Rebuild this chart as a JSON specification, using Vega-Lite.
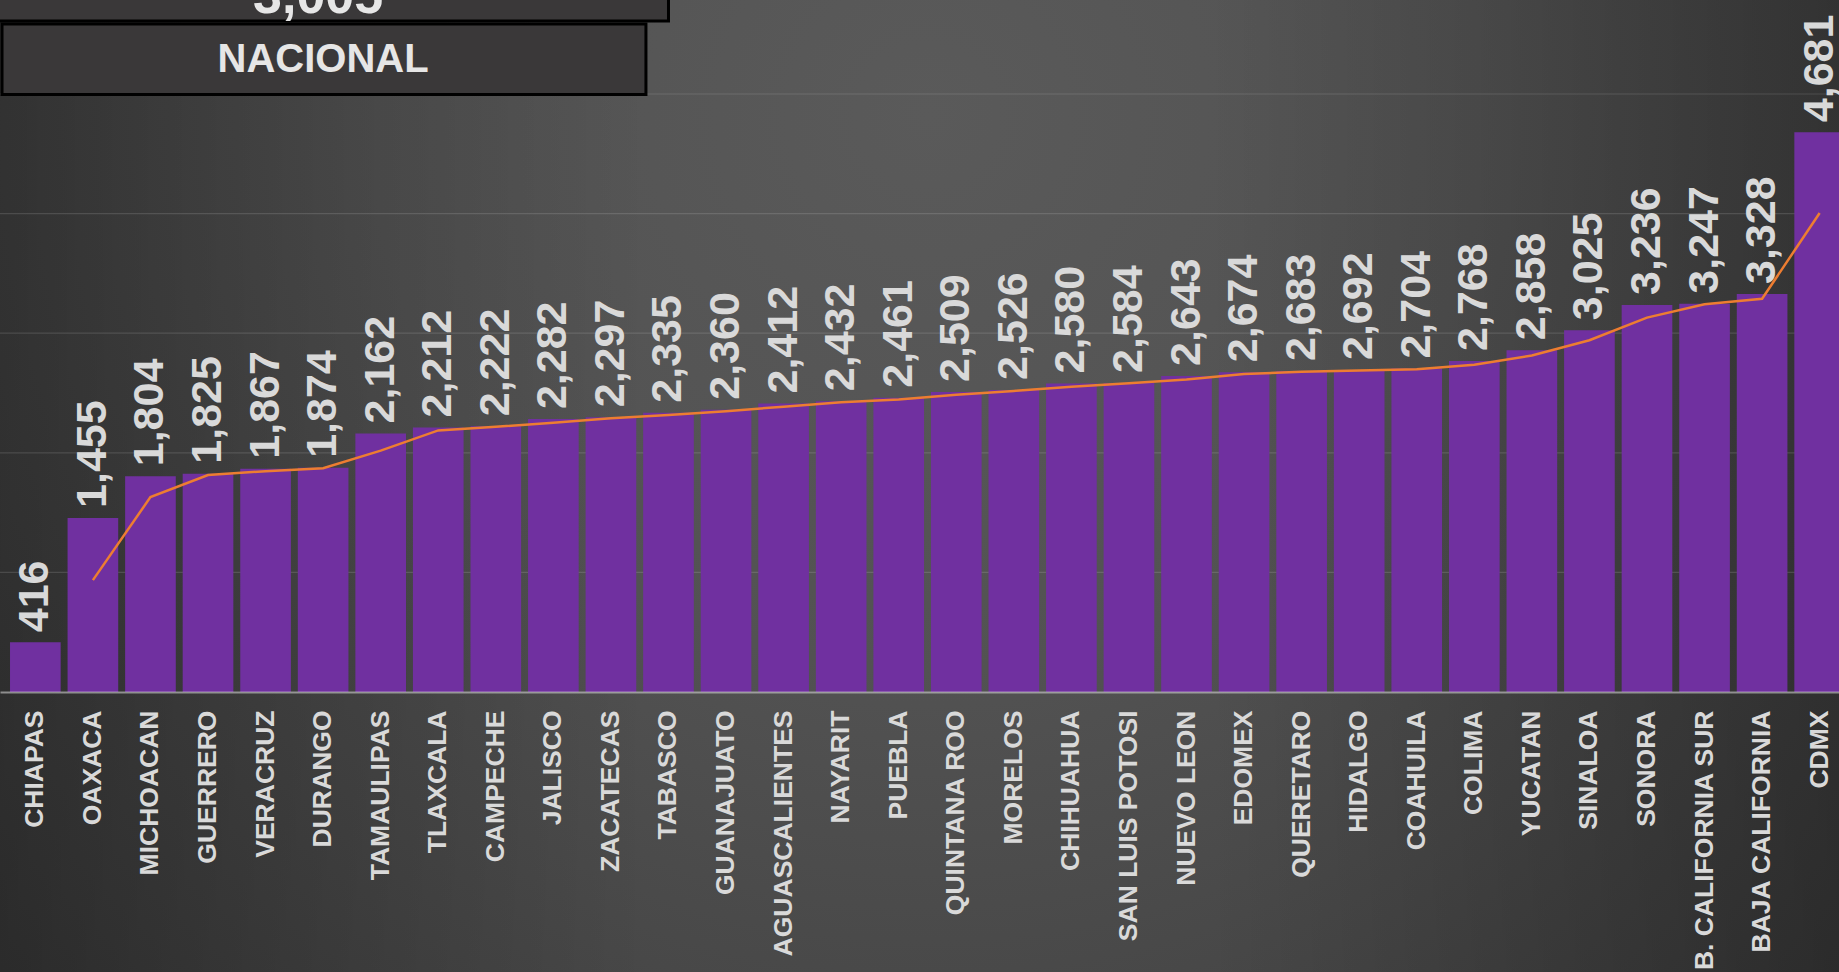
{
  "$schema": "https://vega.github.io/schema/vega-lite/v6.json",
  "width": 1855,
  "height": 692,
  "padding": {"left": 0, "top": 0, "right": 0, "bottom": 280},
  "autosize": {"type": "none"},
  "background": "#2e2e2e",
  "config": {
    "font": "Liberation Sans",
    "axisX": {
      "labelAngle": -90, "labelAlign": "right", "labelBaseline": "middle",
      "labelFont": "Liberation Sans", "labelFontWeight": "bold", "labelFontSize": 26.5,
      "labelColor": "#d9d9d9", "labelPadding": 18, "labelLimit": 500, "labelOverlap": false,
      "ticks": false, "grid": false,
      "domain": true, "domainColor": "#dddddd", "domainOpacity": 0.55, "domainWidth": 2
    }
  },
  "view": {"stroke": null},
  "data": {"values": [
      {"state": "CHIAPAS", "value": 416},
      {"state": "OAXACA", "value": 1455, "ma": 935.5},
      {"state": "MICHOACAN", "value": 1804, "ma": 1629.5},
      {"state": "GUERRERO", "value": 1825, "ma": 1814.5},
      {"state": "VERACRUZ", "value": 1867, "ma": 1846},
      {"state": "DURANGO", "value": 1874, "ma": 1870.5},
      {"state": "TAMAULIPAS", "value": 2162, "ma": 2018},
      {"state": "TLAXCALA", "value": 2212, "ma": 2187},
      {"state": "CAMPECHE", "value": 2222, "ma": 2217},
      {"state": "JALISCO", "value": 2282, "ma": 2252},
      {"state": "ZACATECAS", "value": 2297, "ma": 2289.5},
      {"state": "TABASCO", "value": 2335, "ma": 2316},
      {"state": "GUANAJUATO", "value": 2360, "ma": 2347.5},
      {"state": "AGUASCALIENTES", "value": 2412, "ma": 2386},
      {"state": "NAYARIT", "value": 2432, "ma": 2422},
      {"state": "PUEBLA", "value": 2461, "ma": 2446.5},
      {"state": "QUINTANA ROO", "value": 2509, "ma": 2485},
      {"state": "MORELOS", "value": 2526, "ma": 2517.5},
      {"state": "CHIHUAHUA", "value": 2580, "ma": 2553},
      {"state": "SAN LUIS POTOSI", "value": 2584, "ma": 2582},
      {"state": "NUEVO LEON", "value": 2643, "ma": 2613.5},
      {"state": "EDOMEX", "value": 2674, "ma": 2658.5},
      {"state": "QUERETARO", "value": 2683, "ma": 2678.5},
      {"state": "HIDALGO", "value": 2692, "ma": 2687.5},
      {"state": "COAHUILA", "value": 2704, "ma": 2698},
      {"state": "COLIMA", "value": 2768, "ma": 2736},
      {"state": "YUCATAN", "value": 2858, "ma": 2813},
      {"state": "SINALOA", "value": 3025, "ma": 2941.5},
      {"state": "SONORA", "value": 3236, "ma": 3130.5},
      {"state": "B. CALIFORNIA SUR", "value": 3247, "ma": 3241.5},
      {"state": "BAJA CALIFORNIA", "value": 3328, "ma": 3287.5},
      {"state": "CDMX", "value": 4681, "ma": 4004.5}
  ]},
  "layer": [
    {
      "data": {"values": [{"from": -2341, "to": 5786}]},
      "mark": {
        "type": "rect",
        "fill": {
          "gradient": "radial",
          "x1": 0.5, "y1": 0.3, "r1": 0,
          "x2": 0.5, "y2": 0.3, "r2": 0.75,
          "stops": [
            {"offset": 0, "color": "#5a5a5a"},
            {"offset": 0.4, "color": "#525252"},
            {"offset": 0.93, "color": "#3c3c3c"},
            {"offset": 1, "color": "#383838"}
          ]
        }
      },
      "encoding": {
        "y": {"field": "from", "type": "quantitative", "axis": null},
        "y2": {"field": "to"}
      }
    },
    {
      "data": {"values": [{"from": -2341, "to": 5786}]},
      "mark": {
        "type": "rect",
        "fill": {
          "gradient": "linear",
          "x1": 0, "y1": 0, "x2": 1, "y2": 0,
          "stops": [
            {"offset": 0, "color": "rgba(0,0,0,0.3)"},
            {"offset": 0.35, "color": "rgba(0,0,0,0)"},
            {"offset": 0.65, "color": "rgba(0,0,0,0)"},
            {"offset": 1, "color": "rgba(0,0,0,0.3)"}
          ]
        }
      },
      "encoding": {
        "y": {"field": "from", "type": "quantitative", "axis": null},
        "y2": {"field": "to"}
      }
    },
    {
      "data": {"values": [{"grid": 1000}, {"grid": 2000}, {"grid": 3000}, {"grid": 4000}, {"grid": 5000}]},
      "mark": {"type": "rule", "color": "#ffffff", "opacity": 0.13, "strokeWidth": 1.2},
      "encoding": {
        "y": {"field": "grid", "type": "quantitative", "axis": null}
      }
    },
    {
      "mark": {"type": "bar", "color": "#7030A0"},
      "encoding": {
        "x": {
          "field": "state", "type": "nominal", "sort": null, "title": null,
          "scale": {"paddingInner": 0.12, "paddingOuter": 0.174},
          "axis": {
            "title": null, "orient": "bottom", "zindex": 1,
            "labelAngle": -90, "labelAlign": "right", "labelBaseline": "middle",
            "labelFont": "Liberation Sans", "labelFontWeight": "bold", "labelFontSize": 26.5,
            "labelColor": "#d9d9d9", "labelPadding": 18, "labelLimit": 500, "labelOverlap": false,
            "ticks": false, "grid": false,
            "domain": true, "domainColor": "#dddddd", "domainOpacity": 0.55, "domainWidth": 2
          }
        },
        "y": {
          "field": "value", "type": "quantitative",
          "scale": {"domain": [0, 5786], "nice": false},
          "axis": null
        }
      }
    },
    {
      "mark": {"type": "line", "color": "#ED7D31", "strokeWidth": 2.5},
      "encoding": {
        "x": {"field": "state", "type": "nominal", "sort": null, "title": null},
        "y": {"field": "ma", "type": "quantitative", "axis": null}
      }
    },
    {
      "mark": {
        "type": "text", "angle": 270, "align": "left", "baseline": "middle", "dx": 10,
        "font": "Liberation Sans", "fontSize": 43, "fontWeight": "bold", "fill": "#d9d9d9"
      },
      "encoding": {
        "x": {"field": "state", "type": "nominal", "sort": null, "title": null},
        "y": {"field": "value", "type": "quantitative", "axis": null},
        "text": {"field": "value", "type": "quantitative", "format": ","}
      }
    },
    {
      "data": {"values": [{"box": "total", "from": "CHIAPAS", "to": "TABASCO", "low": 5610, "high": 7000}]},
      "mark": {"type": "rect", "fill": "#3a3839", "stroke": "#000000", "strokeWidth": 3},
      "encoding": {
        "x": {"field": "from", "type": "nominal", "sort": null, "bandPosition": -0.5, "title": null},
        "x2": {"field": "to", "bandPosition": 0.5},
        "y": {"field": "low", "type": "quantitative", "axis": null},
        "y2": {"field": "high"}
      }
    },
    {
      "data": {"values": [{"box": "nacional", "from": "CHIAPAS", "to": "TABASCO", "low": 4995, "high": 5585}]},
      "mark": {"type": "rect", "fill": "#3a3839", "stroke": "#000000", "strokeWidth": 3},
      "encoding": {
        "x": {"field": "from", "type": "nominal", "sort": null, "bandPosition": -0.158, "title": null},
        "x2": {"field": "to", "bandPosition": 0.055},
        "y": {"field": "low", "type": "quantitative", "axis": null},
        "y2": {"field": "high"}
      }
    },
    {
      "data": {"values": [{"label": "NACIONAL", "at": "DURANGO", "pos": 5288}]},
      "mark": {"type": "text", "align": "center", "baseline": "middle", "font": "Liberation Sans", "fontSize": 40, "fontWeight": "bold", "fill": "#e6e6e6"},
      "encoding": {
        "x": {"field": "at", "type": "nominal", "sort": null, "title": null},
        "y": {"field": "pos", "type": "quantitative", "axis": null},
        "text": {"field": "label"}
      }
    },
    {
      "data": {"values": [{"label": "3,005", "at": "DURANGO", "pos": 5677}]},
      "mark": {"type": "text", "align": "center", "baseline": "alphabetic", "dx": -5, "font": "Liberation Sans", "fontSize": 52, "fontWeight": "bold", "fill": "#e6e6e6"},
      "encoding": {
        "x": {"field": "at", "type": "nominal", "sort": null, "title": null},
        "y": {"field": "pos", "type": "quantitative", "axis": null},
        "text": {"field": "label"}
      }
    }
  ]
}
